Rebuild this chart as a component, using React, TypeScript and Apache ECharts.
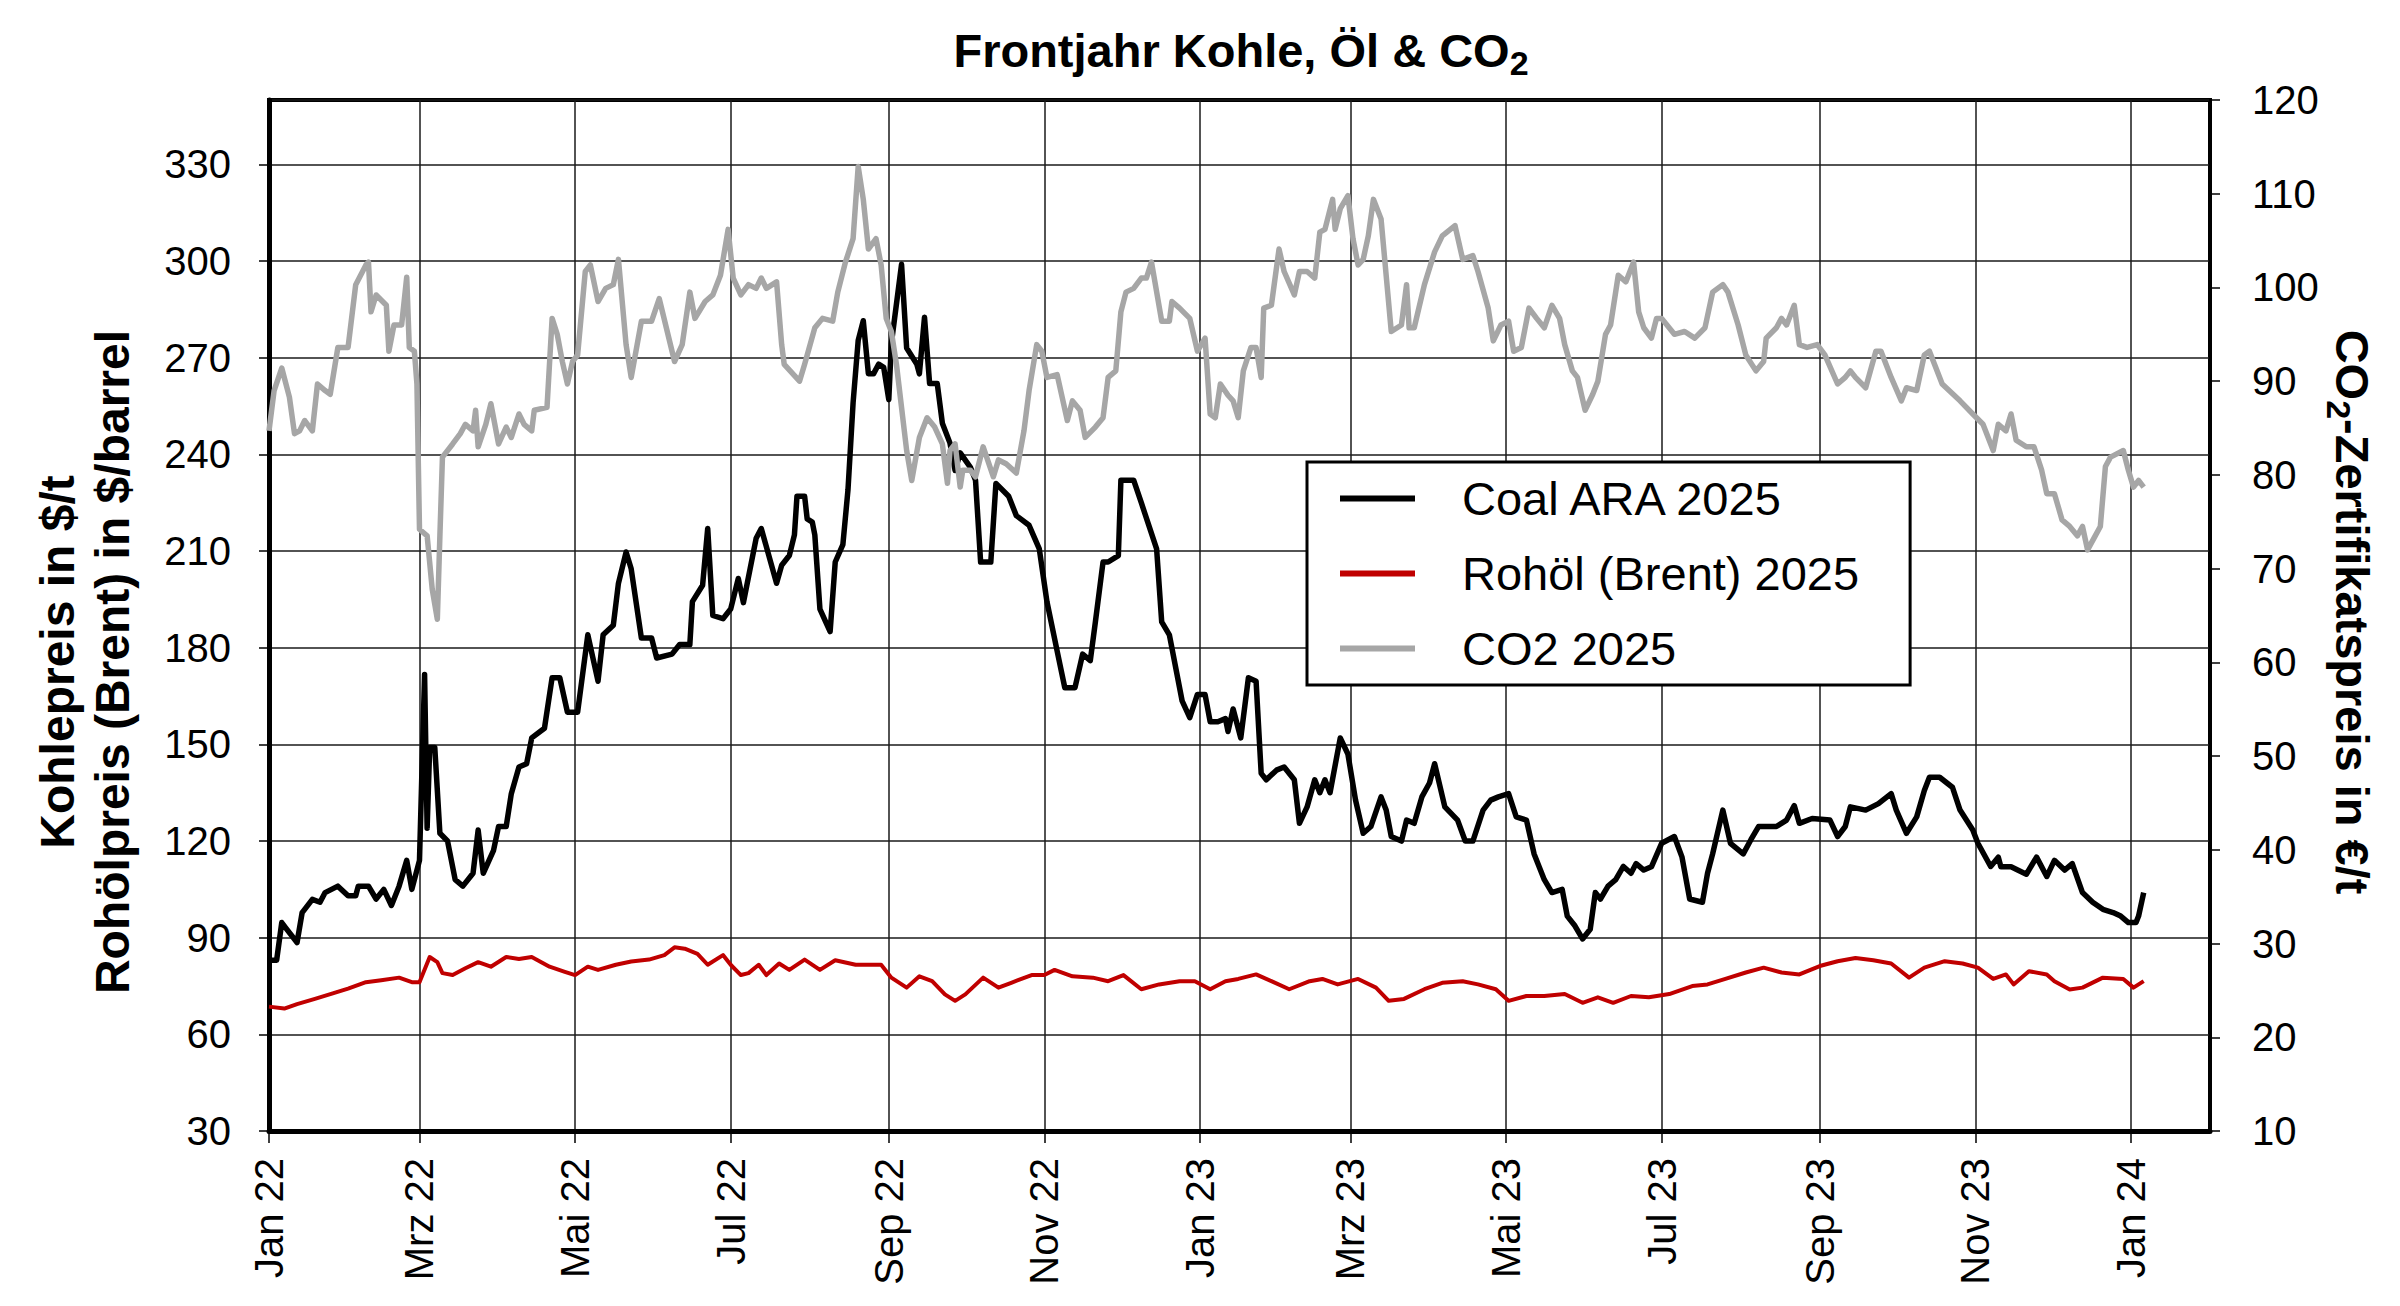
import React, { useEffect, useRef } from "react";
import * as echarts from "echarts";

// x values: days since 2022-01-01
const coalDays = [1,3,5,7,11,13,17,20,22,27,31,34,35,39,42,45,48,51,54,56,59,61,62,63,65,67,70,73,76,80,82,84,88,90,93,95,98,101,103,108,111,114,117,121,125,129,131,135,137,140,142,146,150,152,158,161,165,166,170,172,174,178,181,184,186,191,193,199,201,204,206,207,210,211,213,214,216,220,222,225,227,229,231,233,235,237,239,241,243,244,248,250,254,255,257,259,262,264,267,269,271,275,277,279,283,285,290,293,298,302,305,309,312,316,319,322,324,327,329,333,334,339,342,348,350,353,358,361,364,367,369,372,375,376,378,381,384,387,389,391,395,398,402,404,407,410,412,414,416,420,423,426,429,432,436,438,440,444,446,449,452,455,457,461,466,469,472,476,479,482,486,489,493,496,500,503,507,509,512,515,518,520,522,525,528,531,534,536,539,542,546,551,554,557,562,564,566,570,573,578,581,584,591,595,598,600,605,612,615,618,620,626,631,636,638,642,646,649,651,655,660,663,668,670,675,678,679,683,689,693,697,700,704,707,711,715,719,723,726,729,732,733,735];
const coalValues = [83,83,94.7,92.6,88.5,97.8,101.9,101,104,106,103,103,106,106,102,105,100,106,114,105,114,171.7,124,149,149,122.4,120,108,106,110,123.4,110,117,124.5,124.5,134.7,143,144,152,155,170.7,170.7,160,160,184,169.6,184,187,200,209.7,204.5,183,183,176.8,178,181,181,194.3,199.4,217,190,189,192,201.5,194,214,217,200,205.6,208.6,215,227,227,220,219,215,192,185,206.6,212,229,256,275.4,281.5,265,265,268,267,257,274.4,299,273,268,265,282.6,262,262,249.7,243.5,235,240.5,236,232,206.6,206.6,231,227,221,218,210.7,194.3,179,167.6,167.6,178,176,188,206.6,206.6,208.6,232,232,225,210.7,188,184,163.5,158.3,165.5,165.5,157,157,158,154,161,152,170.7,169.6,141,139,142,143,139,125.5,130.6,139,135,139,135,152,147,132.7,122.4,124.5,133.7,129.6,121.4,120,126.5,125.5,133.7,138,144,130.6,126.5,120,120,129.6,132.7,133.7,134.7,127.5,126.5,116,108,104,105,96.7,93.7,89.6,92.6,104,102,106,108,112.1,110,113,111,112,119.3,121.4,115,102,101,110,116,129.6,119.3,116,120.4,124.5,124.5,126.5,131,125.5,127,126.5,121.4,124.5,130.6,129.6,131.6,134.7,129.6,122.4,127.5,135.7,139.8,139.8,136.7,129.6,123.4,119.3,112.1,115,112,112,109.7,115,109,114,111,113,104,101,98.8,97.8,96.7,94.7,94.7,96.7,104];

const oilDays = [0,6,11,18,25,31,38,44,51,56,59,63,66,68,72,77,82,87,93,98,103,110,116,120,125,129,136,142,149,155,159,163,168,172,178,181,185,188,192,195,200,204,210,216,222,230,237,240,244,250,255,260,265,269,273,280,286,291,299,304,308,315,323,329,335,342,349,357,363,369,375,380,387,393,400,408,413,419,427,434,439,445,453,460,468,474,481,486,493,500,508,515,521,527,534,541,549,558,564,571,579,586,593,600,608,615,622,629,636,643,649,657,664,670,676,681,684,690,697,700,706,711,719,727,731,735];
const oilValues = [68.6,68,69.4,71,72.7,74.2,76.2,76.8,77.6,76.2,76.2,84,82.4,79,78.4,80.5,82.4,81,84,83.4,84,81,79.4,78.4,81,80,81.6,82.6,83.2,84.6,87,86.6,85,81.6,84.6,81.6,78.4,79,81.6,78.4,82,80,83.2,80,83,81.6,81.6,81.6,77.6,74.5,78,76.5,72.4,70.4,72.4,77.6,74.5,76,78.4,78.4,80,78,77.6,76.5,78.4,74,75.5,76.5,76.5,74,76.5,77.2,78.6,76.5,74,76.5,77.2,75.5,77.2,74.5,70.4,71,74,76,76.5,75.5,74,70.4,71.9,71.9,72.5,69.8,71.5,69.8,71.9,71.5,72.5,75,75.5,77.2,79.2,80.7,79.2,78.6,81.2,82.7,83.7,83,82,77.6,80.7,82.7,82,80.7,77.2,78.6,75.5,79.6,78.6,76.5,73.9,74.5,77.6,77.2,74.5,76.5];

const co2Days = [0,2,5,8,10,12,14,17,19,22,24,27,31,34,38,39,40,42,46,47,49,52,54,55,57,58,59,62,64,66,67,68,72,75,77,80,81,82,85,87,90,93,95,98,100,103,104,109,111,113,115,117,119,121,124,126,129,132,135,137,140,142,146,150,153,159,162,165,167,171,174,177,180,182,185,188,191,193,195,199,201,202,208,210,214,217,221,223,226,229,231,233,235,238,240,242,244,246,250,252,255,258,261,264,266,267,269,271,272,275,277,280,284,286,289,293,296,298,301,303,305,309,313,315,318,320,324,327,329,332,334,336,339,342,344,346,350,353,354,357,361,364,367,369,371,373,376,378,380,382,385,387,389,390,393,396,398,402,404,407,410,412,414,417,418,420,423,425,427,429,431,433,436,440,444,446,447,449,453,457,460,465,468,472,474,478,480,483,486,488,491,494,497,500,503,506,508,511,513,516,519,521,524,526,529,532,535,537,539,542,544,546,551,555,559,563,566,570,572,576,579,583,586,587,591,593,595,598,600,603,607,610,615,618,620,622,626,630,632,636,640,642,646,649,651,656,663,668,672,676,678,681,683,685,689,692,695,697,700,703,706,709,711,713,716,718,720,722,727,729,731,733,735];
const co2Values = [84.7,89,91.4,88.3,84.4,84.7,85.8,84.7,89.7,89,88.6,93.6,93.6,100.3,102.4,102.7,97.4,99.2,98.1,93.2,96,96,101.1,93.6,93.2,89.7,74.2,73.5,67.8,64.6,73.5,81.9,83.3,84.4,85.4,84.7,86.9,83,85.4,87.6,83.3,85.1,84,86.5,85.4,84.7,86.9,87.2,96.7,95,92.1,89.7,92.1,92.8,101.7,102.4,98.5,99.9,100.3,103,93.9,90.4,96.4,96.4,98.8,92.1,93.9,99.5,96.7,98.5,99.2,101.3,106.2,101,99.2,100.3,99.9,101,99.9,100.6,93.9,91.8,90,91.8,95.7,96.7,96.4,99.5,102.7,105.2,112.9,109.4,104.1,105.2,102.4,96.7,95.3,91.8,82.6,79.4,84,86.1,85.1,83.3,79.1,82.6,83.3,78.7,80.5,80.5,79.8,83,79.8,81.6,81.2,80.2,84.7,89,93.9,93.2,90.4,90.7,85.8,87.9,86.9,84,85.1,86.1,90.4,91.1,97.4,99.5,99.9,101,101,102.7,96.4,96.4,98.5,97.8,96.7,93.2,94.6,86.5,86.1,89.7,88.5,87.9,86.1,91.1,93.6,93.6,90.4,97.8,98.1,104.1,101.7,99.2,101.7,101.7,101,105.9,106.2,109.4,106.2,108.4,109.8,105.2,102.4,103,105.5,109.4,107.3,95.3,96,100.3,95.7,95.7,100.3,103.8,105.5,106.6,103,103.4,101.7,97.8,94.3,96,96.4,93.2,93.6,97.8,96.7,95.7,98.1,96.7,93.9,91.1,90.4,86.9,88.6,90,95,96,101.3,100.6,102.7,97.4,95.7,94.6,96.7,96.7,95,95.3,94.6,95.7,99.5,100.3,99.5,96,92.8,91.1,92.1,94.6,95.7,96.7,96,98.1,93.9,93.6,93.9,92.8,89.7,90.4,91.1,90.4,89.3,93.2,93.2,90.4,87.9,89.3,89,92.8,93.2,89.7,87.9,86.5,85.4,82.6,85.4,84.7,86.5,83.7,83,83,80.5,78,78,75.2,74.5,73.5,74.5,72,73.5,74.5,80.9,81.9,82.6,80.5,78.7,79.4,78.7];

const seriesNames = ["Coal ARA 2025", "Rohöl (Brent) 2025", "CO2 2025"];
const seriesColors = ["#000000", "#c00000", "#a6a6a6"];
const monthLabels = ["Jan", "Feb", "Mrz", "Apr", "Mai", "Jun", "Jul", "Aug", "Sep", "Okt", "Nov", "Dez"];

const BASE = Date.UTC(2022, 0, 1);
const DAY = 86400000;
const FONT = '"Liberation Sans", Arial, Helvetica, sans-serif';

function toPairs(days: number[], vals: number[]) {
  return days.map((d, i) => [BASE + d * DAY, vals[i]]);
}

export default function App() {
  const ref = useRef<HTMLDivElement>(null);
  useEffect(() => {
    document.body.style.margin = "0";
    if (!ref.current) return;
    const chart = echarts.init(ref.current, null, { renderer: "svg" });
    const subRich = {
      m: { fontSize: 47, fontWeight: "bold", fontFamily: FONT, lineHeight: 60, fill: "#000" },
      s: { fontSize: 34, fontWeight: "bold", fontFamily: FONT, lineHeight: 36, verticalAlign: "bottom", fill: "#000" },
    };
    chart.setOption({
      animation: false,
      backgroundColor: "#ffffff",
      textStyle: { fontFamily: FONT },
      grid: { left: 269, right: 190, top: 100, bottom: 175, show: true, borderColor: "#000", borderWidth: 4, backgroundColor: "#fff" },
      legend: {
        orient: "vertical",
        left: 1307,
        top: 462,
        padding: [13, 51, 13, 33],
        backgroundColor: "#ffffff",
        borderColor: "#000",
        borderWidth: 3,
        borderRadius: 0,
        icon: "rect",
        itemWidth: 75,
        itemHeight: 6,
        itemGap: 28,
        data: seriesNames,
        textStyle: { fontSize: 47, lineHeight: 47, color: "#000", fontFamily: FONT, padding: [0, 0, 0, 42] },
      },
      xAxis: {
        type: "time",
        min: BASE,
        max: Date.UTC(2024, 1, 1),
        splitNumber: 12,
        axisLine: { show: true, lineStyle: { color: "#000", width: 5 } },
        axisTick: { show: true, length: 12, lineStyle: { color: "#000", width: 1.5 } },
        splitLine: { show: true, lineStyle: { color: "#1a1a1a", width: 1.5 } },
        axisLabel: {
          rotate: 90,
          margin: 27,
          fontSize: 40,
          color: "#000",
          fontFamily: FONT,
          showMaxLabel: false,
          hideOverlap: false,
          formatter: (v: number) => {
            const d = new Date(v);
            return monthLabels[d.getUTCMonth()] + " " + String(d.getUTCFullYear()).slice(2);
          },
        },
      },
      useUTC: true,
      yAxis: [
        {
          type: "value",
          min: 30,
          max: 350,
          interval: 30,
          position: "left",
          axisLine: { show: true, lineStyle: { color: "#000", width: 5 } },
          axisTick: { show: true, length: 10, lineStyle: { color: "#000", width: 1.5 } },
          splitLine: { show: true, lineStyle: { color: "#1a1a1a", width: 1.5 } },
          axisLabel: { fontSize: 40, color: "#000", margin: 38, fontFamily: FONT, showMaxLabel: false },
        },
        {
          type: "value",
          min: 10,
          max: 120,
          interval: 10,
          position: "right",
          axisLine: { show: true, lineStyle: { color: "#000", width: 3 } },
          axisTick: { show: true, length: 10, lineStyle: { color: "#000", width: 1.5 } },
          splitLine: { show: false },
          axisLabel: { fontSize: 40, color: "#000", margin: 42, fontFamily: FONT },
        },
      ],
      graphic: [
        {
          type: "text",
          x: 1241,
          y: 50,
          style: {
            text: "{m|Frontjahr Kohle, Öl & CO}{s|2}",
            rich: subRich,
            align: "center",
            verticalAlign: "middle",
          },
        },
        {
          type: "text",
          x: 85,
          y: 662,
          rotation: Math.PI / 2,
          style: {
            text: "Kohlepreis in $/t\nRohölpreis (Brent) in $/barrel",
            fontSize: 48,
            fontWeight: "bold",
            fontFamily: FONT,
            lineHeight: 55,
            fill: "#000",
            align: "center",
            verticalAlign: "middle",
          },
        },
        {
          type: "text",
          x: 2352,
          y: 612,
          rotation: -Math.PI / 2,
          style: {
            text: "{m|CO}{s|2}{m|-Zertifikatspreis in €/t}",
            rich: subRich,
            align: "center",
            verticalAlign: "middle",
          },
        },
      ],
      series: [
        {
          name: seriesNames[0],
          type: "line",
          yAxisIndex: 0,
          symbol: "none",
          color: seriesColors[0],
          lineStyle: { width: 5.5, color: seriesColors[0], join: "round" },
          data: toPairs(coalDays, coalValues),
          z: 3,
        },
        {
          name: seriesNames[1],
          type: "line",
          yAxisIndex: 0,
          symbol: "none",
          color: seriesColors[1],
          lineStyle: { width: 4, color: seriesColors[1], join: "round" },
          data: toPairs(oilDays, oilValues),
          z: 3,
        },
        {
          name: seriesNames[2],
          type: "line",
          yAxisIndex: 1,
          symbol: "none",
          color: seriesColors[2],
          lineStyle: { width: 5.5, color: seriesColors[2], join: "round" },
          data: toPairs(co2Days, co2Values),
          z: 3,
        },
      ],
    });
    return () => chart.dispose();
  }, []);
  return <div ref={ref} style={{ width: 2400, height: 1306 }} />;
}
